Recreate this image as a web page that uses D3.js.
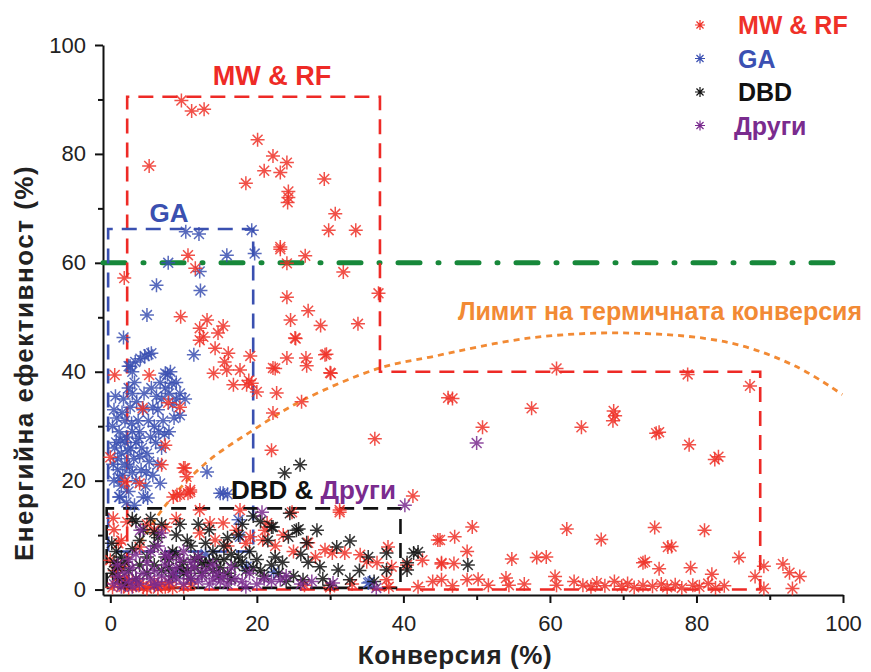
<!DOCTYPE html>
<html>
<head>
<meta charset="utf-8">
<script src="https://cdn.jsdelivr.net/npm/d3@7"></script>
<style>
  body { margin: 0; background: #fff; }
  svg { display: block; font-family: "Liberation Sans", Arial, sans-serif; }
</style>
</head>
<body>
<div id="chart"></div>
<script>
// ticks
const xMajor = [0, 20, 40, 60, 80, 100];
const xMinor = [10, 30, 50, 70, 90];
const yMajor = [0, 20, 40, 60, 80, 100];
const yMinor = [10, 30, 50, 70, 90];

// series names (legend order)
const seriesNames = ["MW & RF", "GA", "DBD", "Други"];

// MW & RF points [conversion %, energy efficiency %]
const mwrfPoints = [
  [9.7, 89.8], [11.1, 87.9], [12.8, 88.2], [20.1, 82.6], [5.3, 77.8], [22.2, 79.6], [24.1, 78.4],
  [21.0, 76.9], [23.2, 76.6], [18.5, 74.6], [29.2, 75.4], [24.3, 73.1], [24.3, 72.0], [24.2, 71.1],
  [30.7, 69.0], [29.8, 66.0], [33.5, 66.0], [23.2, 62.9],
  [10.6, 61.4], [11.6, 59.0], [23.2, 62.5], [26.6, 61.3], [24.1, 59.9], [31.8, 58.3], [1.9, 57.2],
  [36.6, 54.4], [24.1, 53.7], [27.0, 51.2], [9.6, 50.1], [13.2, 49.5], [24.6, 49.5], [28.7, 48.5],
  [33.8, 48.8], [15.4, 48.4], [12.2, 48.0], [25.3, 46.1], [12.7, 46.4], [12.2, 45.8], [14.7, 47.1],
  [14.3, 44.3], [16.1, 43.4], [29.5, 43.2], [24.1, 42.5], [26.7, 42.5], [26.8, 41.1], [19.1, 42.9],
  [15.6, 41.8], [22.5, 40.6], [30.1, 39.7], [0.6, 39.4], [5.3, 39.4], [14.1, 39.7], [15.9, 40.3],
  [17.7, 40.3], [16.8, 37.6], [19.3, 37.9], [18.9, 38.4], [20.0, 36.3], [18.6, 37.6], [22.7, 36.1],
  [25.2, 46.2], [29.3, 43.1], [30.0, 39.8], [22.2, 40.7],
  [4.4, 33.3], [7.9, 34.3], [9.5, 33.5], [7.5, 26.5], [7.0, 22.9], [10.2, 22.3], [10.4, 20.7],
  [10.9, 17.9], [9.5, 17.4], [0.0, 24.3], [2.0, 19.8], [4.0, 19.5], [22.2, 32.4], [22.0, 25.6],
  [36.1, 27.7], [26.1, 34.5], [10.0, 22.3], [10.9, 18.3], [8.6, 17.0], [31.3, 14.6], [24.8, 14.2],
  [41.3, 17.2], [46.1, 35.2],
  [60.9, 40.6], [78.8, 39.5], [87.3, 37.4], [46.7, 35.1], [57.5, 33.3], [68.9, 31.9], [68.7, 32.8],
  [68.6, 31.0], [50.8, 29.8], [64.3, 29.8], [74.5, 28.7], [74.9, 28.9], [79.0, 26.6], [82.5, 23.9],
  [83.0, 24.4],
  [45.0, 9.1], [47.0, 9.7], [49.4, 11.5], [48.7, 7.0], [45.2, 4.7], [46.9, 4.8], [54.8, 5.6],
  [58.2, 5.9], [59.5, 6.0], [62.3, 11.1], [67.0, 9.2], [72.7, 4.9], [45.2, 1.8], [46.7, 0.7],
  [48.7, 1.8], [50.2, 1.9], [51.6, 0.8], [54.0, 2.1], [54.4, 0.8], [56.5, 1.0], [60.7, 2.4],
  [60.9, 0.8], [63.3, 1.5], [64.5, 0.8], [65.6, 0.5], [66.4, 1.2], [67.5, 0.7], [68.8, 1.5],
  [69.8, 0.6], [70.6, 1.1], [71.5, 0.4], [72.7, 0.8],
  [74.3, 11.4], [81.1, 10.9], [76.1, 7.8], [76.6, 7.9], [73.0, 5.1], [74.9, 3.8], [79.2, 4.0],
  [82.1, 2.8], [85.8, 5.9], [89.2, 4.3], [91.8, 4.7], [92.7, 3.1], [94.1, 2.4], [88.0, 2.4],
  [93.1, 0.2], [89.2, 0.2], [74.0, 0.6], [75.2, 1.0], [76.0, 0.4], [77.1, 0.9], [78.0, 0.3],
  [79.5, 0.8], [80.4, 0.5], [81.6, 1.1], [82.6, 0.3], [83.8, 0.7],
  [0.4, 13.1], [2.3, 12.4], [1.1, 8.5], [0.0, 5.4], [0.9, 2.3], [1.8, 0.5], [2.5, 0.3], [3.5, 0.8],
  [4.5, 0.4], [5.5, 0.6], [6.5, 0.2], [7.5, 0.5], [8.5, 0.3], [1.5, 9.0], [0.5, 11.0], [9.1, 17.4],
  [10.6, 17.7], [12.2, 14.6], [13.6, 12.2], [15.4, 12.2], [17.2, 10.9], [19.1, 9.7], [12.2, 10.4],
  [14.3, 9.1], [20.8, 9.1], [21.4, 12.2], [17.7, 14.6], [31.3, 14.2], [21.1, 10.9], [23.6, 10.0],
  [27.0, 8.6], [29.3, 7.3], [30.3, 6.7], [32.0, 6.7], [34.1, 6.4], [35.0, 5.1], [36.4, 4.9],
  [37.9, 7.8], [38.4, 4.2], [37.7, 1.8], [40.5, 4.5], [42.6, 5.4], [44.7, 9.1], [45.2, 4.9],
  [5.0, 12.0], [7.5, 11.5], [9.0, 13.0], [4.0, 7.8], [6.0, 11.0], [16.0, 8.0], [18.5, 8.5],
  [22.5, 8.0], [25.0, 7.0], [28.0, 6.0], [33.0, 1.0], [38.0, 0.5], [42.0, 0.5], [44.0, 1.5],
  [10.0, 0.5], [11.0, 1.0], [26.5, 0.8], [30.0, 0.4], [1.0, 1.2], [3.0, 1.5], [0.3, 0.4],
  [2.0, 1.8], [4.0, 1.2], [5.0, 0.2], [6.0, 1.4], [7.0, 0.9], [8.0, 1.3], [0.6, 3.5], [1.4, 4.2]
];

// GA points
const gaPoints = [
  [10.3, 65.7], [12.1, 65.3], [19.3, 66.0], [7.9, 60.0], [15.9, 61.4], [19.7, 61.7], [12.2, 58.4],
  [6.3, 55.9], [12.3, 54.9], [5.0, 50.4], [1.8, 46.3], [11.4, 43.1], [7.5, 39.7], [8.4, 37.9],
  [2.7, 41.0], [3.4, 41.8], [4.1, 42.4], [4.7, 42.9], [5.2, 43.2], [5.6, 43.4],
  [0.5, 20.0], [1.0, 22.0], [1.5, 25.0], [0.8, 27.0], [1.2, 29.0], [2.0, 31.0], [0.5, 33.0],
  [1.8, 35.0], [2.5, 37.0], [3.0, 36.0], [2.2, 28.0], [2.8, 26.0], [3.2, 24.0], [3.5, 27.0],
  [4.0, 29.0], [3.8, 31.0], [4.5, 33.0], [4.2, 22.0], [5.0, 25.0], [5.5, 28.0], [6.0, 30.0],
  [5.2, 31.0], [6.5, 33.0], [7.0, 35.0], [7.5, 37.0], [8.0, 36.0], [8.5, 34.0], [9.0, 35.0],
  [9.5, 36.0], [7.8, 39.5], [8.2, 40.0], [6.8, 38.0], [2.5, 41.0], [3.0, 40.0], [1.5, 19.0],
  [2.5, 18.0], [3.5, 20.0], [4.8, 19.0], [5.8, 21.0], [6.5, 23.0], [7.0, 26.0], [6.2, 27.0],
  [1.0, 24.0], [2.0, 23.0], [3.0, 29.0], [4.3, 26.0], [5.3, 23.5], [0.3, 30.0], [1.6, 32.5],
  [2.7, 33.5], [3.6, 34.5], [4.6, 36.0], [5.6, 37.0], [6.3, 35.5], [7.2, 31.0], [8.0, 29.0],
  [8.7, 31.5], [9.5, 32.0], [10.2, 35.0], [9.0, 38.0], [7.4, 28.5], [2.2, 16.0], [1.2, 17.0],
  [6.8, 19.5], [5.1, 16.8], [3.3, 15.5], [0.6, 26.0], [1.4, 27.5], [2.4, 25.5], [3.0, 21.5],
  [0.9, 31.5], [2.0, 27.0], [4.0, 24.5], [1.3, 20.5], [2.6, 22.5], [0.4, 23.0], [1.7, 21.0],
  [2.9, 30.5], [3.9, 27.8], [4.9, 21.5], [0.7, 35.5], [3.3, 38.0], [5.8, 33.5], [6.6, 29.0],
  [13.2, 21.6], [15.0, 17.7], [16.0, 17.5], [17.5, 12.8], [15.4, 17.7], [17.7, 9.7], [18.6, 4.2],
  [1.3, 17.0], [4.5, 17.0], [22.3, 3.2], [35.4, 1.4], [35.2, 1.2], [13.0, 6.5], [9.0, 3.0]
];

// DBD points
const dbdPoints = [
  [0.3, 3.0], [0.5, 5.0], [0.8, 7.0], [1.0, 4.0], [1.5, 6.0], [0.2, 8.5], [1.2, 2.0], [2.0, 5.0],
  [2.5, 3.5], [3.0, 13.0], [3.5, 12.5], [4.0, 9.0], [4.5, 11.0], [5.5, 13.0], [6.0, 8.0],
  [6.5, 9.5], [7.0, 12.0], [7.5, 6.0], [8.0, 4.0], [8.5, 7.0], [9.0, 10.0], [9.5, 12.0],
  [10.0, 5.0], [10.5, 3.5], [11.0, 8.0], [11.5, 4.0], [12.0, 6.0], [12.5, 3.0], [13.0, 4.5],
  [13.5, 11.0], [14.0, 3.5], [14.5, 5.5], [15.0, 4.0], [15.5, 8.0], [16.0, 3.0], [16.5, 6.5],
  [17.0, 4.5], [17.5, 10.0], [18.0, 5.0], [18.5, 3.5], [19.0, 7.0], [19.5, 4.0], [20.0, 5.5],
  [20.5, 12.5], [21.0, 2.5], [21.5, 9.0], [22.0, 11.5], [22.5, 6.0], [23.0, 3.0], [23.5, 5.0],
  [24.0, 1.5], [24.5, 14.0], [25.0, 2.5], [2.0, 1.0], [3.5, 2.0], [5.0, 3.0], [6.0, 4.5],
  [7.0, 3.5], [8.5, 2.5], [9.5, 4.0], [11.0, 2.0], [12.5, 5.0], [14.0, 7.0], [16.0, 9.5],
  [5.0, 6.0], [3.0, 7.5], [4.0, 4.5], [9.0, 6.5], [10.5, 9.0], [13.0, 8.5], [18.0, 12.0],
  [19.5, 13.5], [12.0, 12.0], [6.0, 10.5], [11.5, 5.5], [13.5, 5.0], [15.5, 5.5], [17.5, 6.0],
  [8.0, 5.5], [10.0, 3.0], [14.8, 2.5], [20.5, 3.5], [16.5, 2.0], [22.0, 4.5],
  [23.8, 21.4], [25.9, 22.9], [22.2, 11.5], [24.3, 9.7], [25.4, 10.9], [25.7, 11.1], [26.8, 8.6],
  [28.2, 10.9], [28.6, 4.2], [30.9, 7.8], [31.1, 3.6], [32.7, 8.9], [32.7, 1.8], [26.3, 1.8],
  [35.2, 6.0], [37.7, 6.7], [37.7, 3.6], [40.5, 3.6], [40.5, 4.9], [41.4, 6.7], [42.0, 6.9],
  [48.8, 4.5], [27.0, 5.0], [29.0, 2.0], [26.0, 6.5], [34.0, 3.5], [36.0, 1.5], [30.0, 0.8]
];

// Други points
const otherPoints = [
  [0.5, 1.0], [1.0, 2.5], [1.5, 0.5], [2.0, 3.0], [2.5, 1.5], [3.0, 4.0], [3.5, 2.0], [4.0, 1.0],
  [4.5, 3.0], [5.0, 5.0], [5.5, 2.0], [6.0, 3.5], [6.5, 1.0], [7.0, 2.5], [7.5, 4.5], [8.0, 1.5],
  [8.5, 3.0], [9.0, 2.0], [9.5, 5.5], [10.0, 1.0], [10.5, 3.0], [11.0, 2.0], [11.5, 4.0],
  [12.0, 1.5], [12.5, 2.5], [13.0, 3.5], [13.5, 1.0], [14.0, 2.0], [14.5, 3.0], [15.0, 1.5],
  [15.5, 2.5], [16.0, 1.0], [17.0, 2.0], [18.0, 1.5], [19.0, 3.0], [20.0, 1.0], [21.0, 2.0],
  [22.0, 1.5], [23.2, 1.8], [24.0, 2.5], [4.1, 10.9], [7.0, 10.4], [3.5, 6.5], [5.5, 7.0],
  [8.0, 6.0], [6.5, 8.0], [2.5, 5.5], [1.0, 4.5], [10.0, 7.0], [12.0, 6.0], [20.7, 14.2],
  [30.4, 1.2], [36.3, 0.3], [40.2, 15.5], [50.0, 26.9], [26.0, 1.0], [27.5, 1.5], [16.5, 4.0],
  [18.5, 0.5], [3.0, 0.5], [6.0, 0.8], [9.0, 4.0], [11.0, 5.0], [14.0, 4.5], [7.5, 6.5]
];

// annotation boxes and reference lines (data units)
const mwrfBox = [[2.3, 0], [2.3, 90.5], [36.8, 90.5], [36.8, 40], [88.7, 40], [88.7, 0], [2.3, 0]];
const gaBox = [[-0.3, 7], [-0.3, 66.2], [19.5, 66.2], [19.5, 7], [-0.3, 7]];
const dbdBox = [[-0.5, 0.3], [-0.5, 14.9], [39.6, 14.9], [39.6, 0.3], [-0.5, 0.3]];
const efficiencyLevel = 60;
const thermalLimit = [
  [0, 0], [3, 6.5], [7.8, 15.9], [13, 23.2], [19.5, 29.3], [26.3, 34.8], [36.8, 40.7],
  [43.7, 42.7], [57.3, 46.2], [71, 47.1], [84.6, 45.3], [93.7, 40.9], [99.9, 35.8]
];

const width = 871, height = 672;
const colors = { "MW & RF": "#ef3128", "GA": "#3b50b2", "DBD": "#111111", "Други": "#7a2b8e" };

const svg = d3.select("#chart").append("svg")
  .attr("width", width)
  .attr("height", height);

const x = d3.scaleLinear().domain([-1, 100]).range([103, 843]);
const y = d3.scaleLinear().domain([-1, 100]).range([595, 45]);

// asterisk marker
function star(r) {
  const d = r * Math.SQRT1_2;
  return `M${-r},0L${r},0M0,${-r}L0,${r}M${-d},${-d}L${d},${d}M${-d},${d}L${d},${-d}`;
}

// axes
svg.append("g").attr("transform", "translate(0,595)")
  .call(d3.axisBottom(x).tickValues(xMajor).tickSize(8).tickSizeOuter(0).tickPadding(12));
svg.append("g").attr("transform", "translate(0,595)")
  .call(d3.axisBottom(x).tickValues(xMinor).tickSize(5).tickFormat("")).select(".domain").remove();
svg.append("g").attr("transform", "translate(103,0)")
  .call(d3.axisLeft(y).tickValues(yMajor).tickSize(8).tickSizeOuter(0).tickPadding(9));
svg.append("g").attr("transform", "translate(103,0)")
  .call(d3.axisLeft(y).tickValues(yMinor).tickSize(5).tickFormat("")).select(".domain").remove();

svg.selectAll(".domain").attr("stroke", "#111").attr("stroke-width", 2);
svg.selectAll(".tick line").attr("stroke", "#111").attr("stroke-width", 2);
svg.selectAll(".tick text").attr("font-size", 22).attr("fill", "#222")
  .attr("font-family", "'Liberation Sans', Arial, sans-serif");

// axis titles
svg.append("text").attr("x", 455).attr("y", 664).attr("text-anchor", "middle")
  .attr("font-size", 26).attr("font-weight", "bold").attr("fill", "#222")
  .attr("letter-spacing", 0.6)
  .text("Конверсия (%)");
svg.append("text").attr("transform", "translate(33,363) rotate(-90)").attr("text-anchor", "middle")
  .attr("font-size", 26).attr("font-weight", "bold").attr("fill", "#222")
  .attr("letter-spacing", 1.5)
  .text("Енергийна ефективност (%)");

const line = d3.line().x(d => x(d[0])).y(d => y(d[1]));

// reference lines and boxes
svg.append("path").attr("d", line([[-1, efficiencyLevel], [99, efficiencyLevel]]))
  .attr("fill", "none").attr("stroke", "#17883a").attr("stroke-width", 5)
  .attr("stroke-linecap", "round").attr("stroke-dasharray", "22,18,1,18");

svg.append("path").attr("d", d3.line().curve(d3.curveCatmullRom).x(d => x(d[0])).y(d => y(d[1]))(thermalLimit))
  .attr("fill", "none").attr("stroke", "#f28a34").attr("stroke-width", 2.8)
  .attr("stroke-dasharray", "6,5");

svg.append("path").attr("d", line(mwrfBox)).attr("fill", "none")
  .attr("stroke", "#ee2a26").attr("stroke-width", 2.6).attr("stroke-dasharray", "15,9");
svg.append("path").attr("d", line(gaBox)).attr("fill", "none")
  .attr("stroke", "#3a50b0").attr("stroke-width", 2.6).attr("stroke-dasharray", "15,9");
svg.append("path").attr("d", line(dbdBox)).attr("fill", "none")
  .attr("stroke", "#111").attr("stroke-width", 2.6).attr("stroke-dasharray", "15,9");

// scatter series
const series = [
  { name: "GA", data: gaPoints },
  { name: "MW & RF", data: mwrfPoints },
  { name: "DBD", data: dbdPoints },
  { name: "Други", data: otherPoints }
];
series.forEach(s => {
  svg.append("g").selectAll("path")
    .data(s.data)
    .join("path")
    .attr("transform", d => `translate(${x(d[0])},${y(d[1])})`)
    .attr("d", star(7))
    .attr("fill", "none")
    .attr("stroke", colors[s.name])
    .attr("stroke-width", 1.5)
    .attr("stroke-opacity", 0.85);
});

// annotations
const bold = sel => sel.attr("font-weight", "bold");
svg.append("text").attr("x", 272).attr("y", 85).attr("text-anchor", "middle")
  .attr("font-size", 27).attr("fill", "#ee2a26").call(bold).text("MW & RF");
svg.append("text").attr("x", 169).attr("y", 222).attr("text-anchor", "middle")
  .attr("font-size", 26).attr("fill", "#3a50b0").call(bold).text("GA");
const dbdLabel = svg.append("text").attr("x", 231).attr("y", 499)
  .attr("font-size", 26).call(bold);
dbdLabel.append("tspan").attr("fill", "#111").text("DBD & ");
dbdLabel.append("tspan").attr("fill", colors["Други"]).text("Други");
svg.append("text").attr("x", 660).attr("y", 320).attr("text-anchor", "middle")
  .attr("font-size", 25).attr("fill", "#f28a34").call(bold).text("Лимит на термичната конверсия");

// legend
const legend = svg.append("g").selectAll("g")
  .data(seriesNames)
  .join("g")
  .attr("transform", (d, i) => `translate(0,${25 + i * 33.5})`);
legend.append("path")
  .attr("transform", "translate(700,0)")
  .attr("d", star(5))
  .attr("fill", "none")
  .attr("stroke", d => colors[d])
  .attr("stroke-width", 1.2);
legend.append("text")
  .attr("x", (d, i) => i === 3 ? 734 : 738)
  .attr("y", 9)
  .attr("font-size", 25)
  .attr("font-weight", "bold")
  .attr("fill", d => colors[d])
  .text(d => d);
</script>
</body>
</html>
